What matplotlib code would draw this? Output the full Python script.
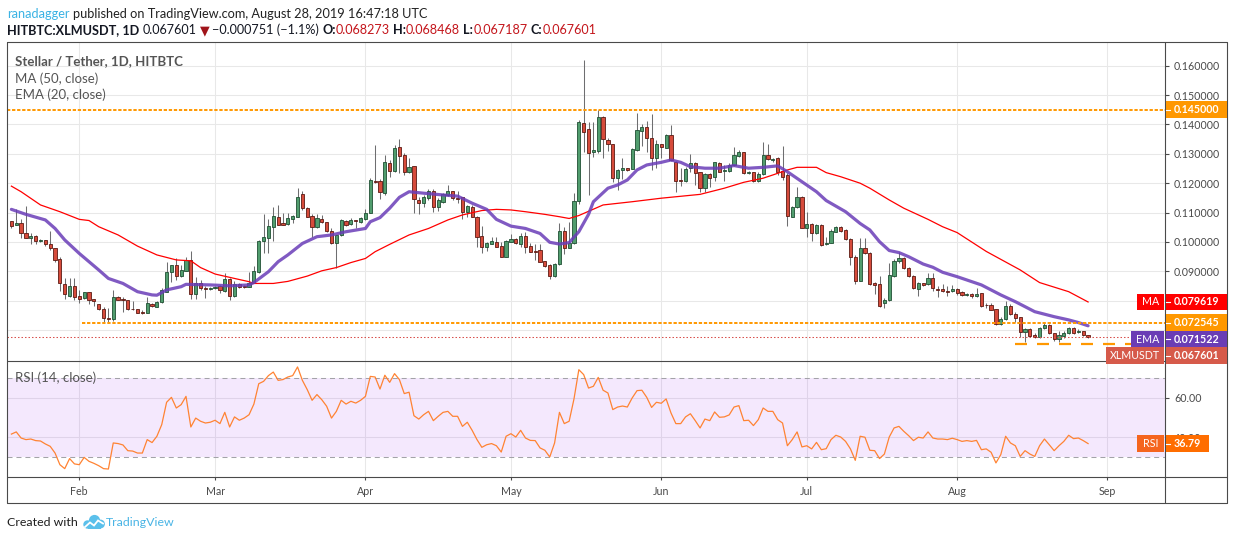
import numpy as np
import pandas as pd
import matplotlib
matplotlib.use('Agg')
import matplotlib.pyplot as plt
import matplotlib.dates as mdates
from matplotlib.patches import Rectangle, Circle

plt.rcParams['font.family'] = ['Lato', 'DejaVu Sans']

# ---------------- data ----------------
start_date = '2019-01-18'
opens = [0.1071,0.1057,0.1065,0.1031,0.1015,0.1019,0.1004,0.1006,0.0993,0.0978,
         0.0941,0.0857,0.0817,0.0850,0.0816,0.0808,0.0829,0.0807,0.0788,0.0772,
         0.0743,0.0739,0.0813,0.0807,0.0803,0.0772,0.0772,0.0762,0.0760,0.0789,
         0.0780,0.0795,0.0830,0.0897,0.0921,0.0884,0.0902,0.0939,0.0822,0.0859,
         0.0842,0.0839,0.0842,0.0850,0.0834,0.0873,0.0817,0.0857,0.0851,0.0848,
         0.0862,0.0898,0.1004,0.1015,0.1052,0.1084,0.1063,0.1060,0.1079,0.1086,
         0.1163,0.1115,0.1088,0.1052,0.1078,0.1067,0.1039,0.0998,0.1024,0.1071,
         0.1060,0.1075,0.1069,0.1078,0.1100,0.1208,0.1208,0.1166,0.1268,0.1243,
         0.1322,0.1296,0.1239,0.1259,0.1143,0.1132,0.1149,0.1173,0.1120,0.1137,
         0.1160,0.1173,0.1150,0.1152,0.1103,0.1118,0.1086,0.1020,0.0984,0.0994,
         0.1000,0.0986,0.0950,0.1001,0.1010,0.0993,0.1019,0.0986,0.0969,0.0973,
         0.0934,0.0922,0.0885,0.0924,0.1037,0.0981,0.0995,0.1139,0.1404,0.1384,
         0.1307,0.1311,0.1424,0.1347,0.1332,0.1217,0.1244,0.1252,0.1248,0.1314,
         0.1376,0.1391,0.1353,0.1285,0.1332,0.1321,0.1364,0.1273,0.1211,0.1209,
         0.1251,0.1268,0.1237,0.1182,0.1231,0.1220,0.1268,0.1241,0.1243,0.1262,
         0.1294,0.1305,0.1234,0.1237,0.1209,0.1231,0.1296,0.1278,0.1287,0.1240,
         0.1228,0.1086,0.1118,0.1154,0.1049,0.1060,0.1030,0.1057,0.0992,0.0998,
         0.1035,0.1052,0.1041,0.1009,0.0950,0.0868,0.0978,0.0964,0.0859,0.0856,
         0.0791,0.0803,0.0884,0.0934,0.0944,0.0910,0.0885,0.0839,0.0859,0.0856,
         0.0876,0.0840,0.0839,0.0833,0.0832,0.0840,0.0830,0.0819,0.0823,0.0816,
         0.0825,0.0787,0.0787,0.0771,0.0720,0.0737,0.0782,0.0755,0.0744,0.0693,
         0.0703,0.0684,0.0678,0.0706,0.0718,0.0689,0.0670,0.0680,0.0689,0.0709,
         0.0695,0.0697,0.068273]
highs = [0.1073,0.1111,0.1077,0.1122,0.1030,0.1024,0.1010,0.1006,0.1037,0.0978,
         0.0948,0.0876,0.0877,0.0877,0.0836,0.0831,0.0829,0.0807,0.0788,0.0778,
         0.0774,0.0837,0.0816,0.0812,0.0803,0.0800,0.0772,0.0769,0.0813,0.0791,
         0.0798,0.0845,0.0932,0.0923,0.0944,0.0921,0.0950,0.0969,0.0882,0.0871,
         0.0851,0.0848,0.0851,0.0854,0.0896,0.0876,0.0868,0.0859,0.0853,0.0898,
         0.0919,0.1007,0.1095,0.1077,0.1120,0.1126,0.1098,0.1098,0.1092,0.1183,
         0.1175,0.1118,0.1094,0.1095,0.1092,0.1069,0.1048,0.1024,0.1079,0.1075,
         0.1080,0.1075,0.1086,0.1111,0.1219,0.1330,0.1213,0.1296,0.1279,0.1330,
         0.1350,0.1302,0.1285,0.1259,0.1152,0.1160,0.1179,0.1179,0.1149,0.1168,
         0.1193,0.1173,0.1173,0.1154,0.1126,0.1126,0.1088,0.1054,0.1001,0.1016,
         0.1016,0.1001,0.1007,0.1027,0.1012,0.1029,0.1035,0.0998,0.0993,0.0993,
         0.0936,0.0925,0.0930,0.1066,0.1052,0.1069,0.1166,0.1415,0.1619,0.1409,
         0.1409,0.1449,0.1429,0.1353,0.1335,0.1248,0.1287,0.1253,0.1321,0.1438,
         0.1400,0.1413,0.1434,0.1347,0.1335,0.1366,0.1398,0.1276,0.1251,0.1256,
         0.1299,0.1273,0.1239,0.1234,0.1234,0.1273,0.1271,0.1262,0.1268,0.1324,
         0.1313,0.1307,0.1240,0.1239,0.1239,0.1341,0.1333,0.1285,0.1290,0.1327,
         0.1234,0.1122,0.1186,0.1156,0.1103,0.1063,0.1060,0.1060,0.1018,0.1043,
         0.1056,0.1054,0.1044,0.1012,0.0955,0.1012,0.1012,0.0967,0.0865,0.0884,
         0.0808,0.0927,0.0941,0.0967,0.0948,0.0914,0.0888,0.0865,0.0862,0.0896,
         0.0896,0.0850,0.0857,0.0851,0.0854,0.0842,0.0832,0.0825,0.0825,0.0842,
         0.0828,0.0794,0.0791,0.0773,0.0744,0.0799,0.0788,0.0763,0.0746,0.0706,
         0.0706,0.0689,0.0712,0.0723,0.0721,0.0692,0.0697,0.0698,0.0712,0.0712,
         0.0703,0.0698,0.068468]
lows = [0.1047,0.1057,0.1015,0.1012,0.0992,0.0992,0.1001,0.0986,0.0973,0.0933,
        0.0834,0.0805,0.0814,0.0803,0.0791,0.0805,0.0788,0.0782,0.0769,0.0729,
        0.0729,0.0732,0.0802,0.0762,0.0769,0.0769,0.0757,0.0755,0.0760,0.0780,
        0.0778,0.0794,0.0830,0.0865,0.0871,0.0882,0.0900,0.0807,0.0807,0.0837,
        0.0811,0.0837,0.0840,0.0825,0.0831,0.0802,0.0814,0.0842,0.0845,0.0846,
        0.0859,0.0896,0.0964,0.0964,0.1004,0.1057,0.1057,0.1058,0.1063,0.1084,
        0.1109,0.1084,0.1016,0.1046,0.1063,0.1035,0.0993,0.0913,0.1020,0.1054,
        0.1058,0.1046,0.1066,0.1075,0.1098,0.1200,0.1145,0.1160,0.1222,0.1239,
        0.1234,0.1228,0.1234,0.1098,0.1095,0.1120,0.1143,0.1103,0.1107,0.1134,
        0.1156,0.1143,0.1134,0.1077,0.1086,0.1084,0.0984,0.0964,0.0970,0.0992,
        0.0982,0.0948,0.0948,0.0999,0.0993,0.0984,0.0964,0.0965,0.0939,0.0931,
        0.0916,0.0873,0.0882,0.0922,0.0959,0.0978,0.0993,0.1130,0.1307,0.1160,
        0.1290,0.1302,0.1285,0.1310,0.1205,0.1177,0.1213,0.1243,0.1247,0.1311,
        0.1327,0.1307,0.1245,0.1251,0.1287,0.1319,0.1276,0.1171,0.1192,0.1205,
        0.1239,0.1194,0.1169,0.1169,0.1188,0.1207,0.1237,0.1207,0.1239,0.1260,
        0.1290,0.1230,0.1230,0.1205,0.1205,0.1228,0.1279,0.1273,0.1228,0.1211,
        0.1054,0.1084,0.1115,0.1046,0.1018,0.1005,0.1027,0.0988,0.0990,0.0995,
        0.1033,0.1035,0.1007,0.0922,0.0857,0.0866,0.0959,0.0855,0.0823,0.0780,
        0.0774,0.0800,0.0882,0.0930,0.0908,0.0882,0.0840,0.0817,0.0850,0.0854,
        0.0834,0.0812,0.0831,0.0817,0.0829,0.0820,0.0816,0.0817,0.0808,0.0814,
        0.0778,0.0774,0.0768,0.0718,0.0718,0.0735,0.0752,0.0729,0.0678,0.0661,
        0.0678,0.0672,0.0672,0.0703,0.0687,0.0664,0.0661,0.0675,0.0687,0.0687,
        0.0692,0.0681,0.067187]
closes = [0.1055,0.1065,0.1030,0.1015,0.1019,0.1005,0.1006,0.0992,0.0981,0.0939,
          0.0859,0.0822,0.0850,0.0812,0.0807,0.0829,0.0802,0.0798,0.0772,0.0740,
          0.0739,0.0813,0.0804,0.0803,0.0771,0.0771,0.0760,0.0760,0.0792,0.0781,
          0.0795,0.0837,0.0898,0.0921,0.0885,0.0905,0.0939,0.0822,0.0859,0.0842,
          0.0839,0.0843,0.0848,0.0836,0.0874,0.0817,0.0857,0.0846,0.0848,0.0862,
          0.0901,0.1003,0.1018,0.1054,0.1088,0.1059,0.1059,0.1080,0.1088,0.1153,
          0.1115,0.1086,0.1052,0.1080,0.1067,0.1039,0.0995,0.1024,0.1075,0.1058,
          0.1075,0.1070,0.1080,0.1100,0.1211,0.1203,0.1171,0.1272,0.1243,0.1319,
          0.1294,0.1239,0.1254,0.1145,0.1132,0.1152,0.1173,0.1120,0.1143,0.1162,
          0.1173,0.1149,0.1145,0.1103,0.1122,0.1086,0.1018,0.0984,0.0995,0.1002,
          0.0984,0.0950,0.1003,0.1010,0.0995,0.1019,0.0984,0.0967,0.0967,0.0933,
          0.0920,0.0885,0.0925,0.1037,0.0978,0.0995,0.1139,0.1407,0.1375,0.1304,
          0.1313,0.1424,0.1349,0.1332,0.1217,0.1245,0.1252,0.1246,0.1315,0.1381,
          0.1391,0.1355,0.1287,0.1332,0.1322,0.1364,0.1279,0.1209,0.1209,0.1248,
          0.1268,0.1234,0.1182,0.1231,0.1219,0.1271,0.1239,0.1245,0.1262,0.1296,
          0.1305,0.1234,0.1237,0.1207,0.1231,0.1296,0.1281,0.1281,0.1239,0.1222,
          0.1088,0.1118,0.1154,0.1049,0.1060,0.1030,0.1057,0.0990,0.0995,0.1037,
          0.1052,0.1039,0.1009,0.0948,0.0868,0.0978,0.0961,0.0857,0.0855,0.0783,
          0.0803,0.0887,0.0935,0.0944,0.0910,0.0885,0.0842,0.0859,0.0855,0.0876,
          0.0842,0.0837,0.0834,0.0831,0.0840,0.0828,0.0819,0.0823,0.0818,0.0823,
          0.0783,0.0785,0.0770,0.0720,0.0737,0.0782,0.0754,0.0743,0.0693,0.0703,
          0.0681,0.0678,0.0706,0.0718,0.0689,0.0669,0.0683,0.0692,0.0709,0.0692,
          0.0697,0.0684,0.067601]

ma_day = [0,2,6,10,14,16,18,22,26,30,34,37,39,42,46,49,50,54,57,61,64,67,70,73,75,
          78,82,86,90,93,97,100,103,106,110,113,115,117,122,128,134,142,147,151,155,
          157,160,162,166,168,171,175,177,181,184,189,192,195,201,208,212,218,222]
ma_val = [0.1190,0.1171,0.1126,0.1103,0.1077,0.1073,0.1052,0.1024,0.0986,0.0956,
          0.0939,0.0936,0.0913,0.0891,0.0876,0.0865,0.0859,0.0859,0.0866,0.0884,
          0.0902,0.0913,0.0930,0.0944,0.0967,0.0992,0.1024,0.1046,0.1075,0.1092,
          0.1107,0.1111,0.1109,0.1103,0.1094,0.1086,0.1080,0.1090,0.1126,0.1137,
          0.1149,0.1162,0.1183,0.1203,0.1217,0.1228,0.1245,0.1254,0.1254,0.1236,
          0.1222,0.1200,0.1183,0.1143,0.1115,0.1077,0.1052,0.1032,0.0968,0.0905,
          0.0862,0.0831,0.0796]
ema_day = [0,3,7,9,11,14,16,18,20,23,26,29,30,32,35,36,41,45,49,50,53,55,57,60,63,
           66,69,73,74,76,78,80,82,85,89,92,95,98,100,103,106,109,111,113,115,117,
           119,120,123,125,127,129,131,134,136,138,140,143,146,149,152,155,158,160,
           163,166,168,170,172,175,177,179,181,183,185,188,190,192,195,200,204,207,
           211,215,218,220,222]
ema_val = [0.1111,0.1094,0.1075,0.1046,0.1007,0.0961,0.0933,0.0905,0.0876,0.0859,
           0.0831,0.0820,0.0819,0.0837,0.0848,0.0856,0.0854,0.0851,0.0854,0.0862,
           0.0899,0.0933,0.0956,0.0995,0.1018,0.1024,0.1035,0.1046,0.1069,0.1083,
           0.1115,0.1152,0.1171,0.1166,0.1160,0.1156,0.1132,0.1111,0.1077,0.1054,
           0.1046,0.1029,0.0999,0.0993,0.0998,0.1035,0.1094,0.1137,0.1183,0.1194,
           0.1211,0.1245,0.1262,0.1271,0.1279,0.1271,0.1256,0.1251,0.1251,0.1260,
           0.1251,0.1254,0.1259,0.1239,0.1205,0.1171,0.1141,0.1122,0.1103,0.1063,
           0.1041,0.1001,0.0971,0.0964,0.0950,0.0925,0.0914,0.0897,0.0882,0.0854,
           0.0820,0.0797,0.0763,0.0746,0.0735,0.0726,0.0715]
rsi = [41.6,42.7,39.6,38.8,39.1,38.3,38.1,36.6,35.4,32.0,26.1,24.1,29.2,26.5,26.1,
       29.8,27.8,26.8,25.6,24.1,23.9,37.1,36.8,36.1,33.2,33.0,32.0,32.0,38.8,37.3,
       40.5,46.4,57.7,60.2,54.8,56.5,60.7,45.2,49.7,48.1,47.2,47.6,48.6,46.9,52.6,
       45.2,50.3,48.6,49.7,51.4,56.8,67.1,68.3,71.2,73.0,68.8,69.2,70.5,71.2,75.6,
       68.8,64.1,58.7,61.6,59.0,55.7,49.7,53.1,58.7,56.8,58.2,57.3,58.7,60.7,70.8,
       70.5,64.4,71.4,67.8,72.2,69.2,62.1,62.8,50.9,49.2,51.4,53.1,48.4,50.6,52.6,
       53.1,50.6,50.6,45.5,47.6,43.5,38.8,34.9,36.2,36.8,35.7,32.5,40.5,41.8,40.1,
       43.5,39.6,38.4,38.3,34.6,33.4,30.0,37.1,52.6,46.9,48.1,59.4,74.2,71.7,64.9,
       65.8,70.3,63.8,62.4,54.0,55.3,55.8,55.3,59.9,63.6,63.8,60.2,55.1,57.7,57.2,
       59.4,52.3,46.9,46.9,50.3,51.9,48.4,44.7,49.2,48.4,52.8,50.1,50.3,51.3,55.3,
       56.0,48.4,48.6,45.9,48.9,54.8,53.1,53.1,48.9,47.2,35.7,38.8,42.7,35.1,35.7,
       34.1,37.4,33.7,34.2,38.8,41.0,40.1,37.9,34.1,28.3,40.5,40.0,33.4,33.2,29.2,
       31.5,40.1,44.7,45.5,43.0,40.8,38.3,40.0,39.6,42.7,39.6,39.1,39.1,38.8,39.5,
       38.8,37.9,38.3,37.9,38.4,33.7,34.1,32.4,27.0,31.2,40.5,37.1,35.7,30.3,33.2,
       31.5,30.3,35.7,39.1,36.2,33.2,35.7,37.9,41.0,39.3,39.6,38.3,36.79]

price_grid = [0.07, 0.08, 0.09, 0.10, 0.11, 0.12, 0.13, 0.14, 0.15, 0.16]
price_labeled = [0.09, 0.10, 0.11, 0.12, 0.13, 0.14, 0.15, 0.16]
rsi_grid = [40, 60]
month_labels = ['Feb', 'Mar', 'Apr', 'May', 'Jun', 'Jul', 'Aug', 'Sep']
resistance = 0.145
support_level = 0.072545
lower_support = 0.0653
last_price = 0.067601
ma_last = 0.079619
ema_last = 0.071522
rsi_last = 36.79

# ---------------- styling ----------------
W, H = 1234, 540
UPF, UPE = '#519D6E', '#1F4F33'
DNF, DNE = '#D64B3B', '#5B1A13'
WICK = '#6E6E70'
GRID = '#E8E8E8'
FRAME = '#4A4A4A'
ORANGE = '#FF9800'
TXT = '#4A4A4A'

fig = plt.figure(figsize=(W / 100, H / 100), dpi=100)
fig.patch.set_facecolor('white')
renderer = fig.canvas.get_renderer()


def fb(x0, y0, x1, y1):
    return [x0 / W, 1 - y1 / H, (x1 - x0) / W, (y1 - y0) / H]


ax = fig.add_axes(fb(7, 42, 1165, 361))
axr = fig.add_axes(fb(7, 361, 1165, 477))
ov = fig.add_axes([0, 0, 1, 1], zorder=10)
ov.set_xlim(0, W)
ov.set_ylim(H, 0)
ov.axis('off')
ov.patch.set_visible(False)

dates = pd.date_range(start_date, periods=len(closes), freq='D')
xd = mdates.date2num(dates.to_pydatetime())
x0 = xd[0]
xlim = (x0 - 0.907, x0 + 237.86)
months = pd.date_range('2019-02-01', '2019-09-01', freq='MS')
mx = mdates.date2num(months.to_pydatetime())

for a in (ax, axr):
    a.set_xlim(*xlim)
    for s in a.spines.values():
        s.set_visible(False)
    a.set_facecolor('white')
ax.set_ylim(0.05952, 0.16803)
axr.set_ylim(19.87, 78.6)

# grid
for v in price_grid:
    ax.axhline(v, color=GRID, lw=0.75, zorder=0)
for m in mx:
    ax.axvline(m, color=GRID, lw=0.75, zorder=0)
    axr.axvline(m, color=GRID, lw=0.75, zorder=0)
for v in rsi_grid:
    axr.axhline(v, color=GRID, lw=0.75, zorder=0)

# candles
O = np.array(opens); Hh = np.array(highs); L = np.array(lows); C = np.array(closes)
up = C >= O
ax.vlines(xd, L, Hh, color=WICK, lw=0.75, zorder=2)
ax.bar(xd, np.maximum(np.abs(C - O), 0.00007), bottom=np.minimum(O, C), width=0.66,
       color=[UPF if u else DNF for u in up], edgecolor=[UPE if u else DNE for u in up],
       linewidth=0.6, zorder=3)

# moving averages
ax.plot(xd[ma_day], ma_val, color='#FF0000', lw=0.9, zorder=4)
ax.plot(xd[ema_day], ema_val, color='#6A3DB8', lw=2.3, alpha=0.85, zorder=4,
        solid_capstyle='round', solid_joinstyle='round')

# horizontal levels
ax.axhline(resistance, color=ORANGE, lw=1.4, linestyle=(0, (1.7, 0.9)), zorder=5)
ax.hlines(support_level, x0 + 14.6, xlim[1], color=ORANGE, lw=1.4,
          linestyle=(0, (1.7, 0.9)), zorder=5)
ax.hlines(lower_support, x0 + 206.9, x0 + 236.8, color=ORANGE, lw=1.6,
          linestyle=(0, (5.4, 4.5)), zorder=5)
ax.axhline(last_price, color='#D9534F', lw=0.75, linestyle=(0, (1.44, 1.92)), zorder=5)

# RSI
axr.axhspan(30, 70, color=(0.58, 0.13, 0.95, 0.10), lw=0, zorder=1)
for v in (30, 70):
    axr.axhline(v, color='#A3A3A8', lw=0.75, linestyle=(0, (4.8, 3.8)), zorder=2)
axr.plot(xd, rsi, color='#FF8333', lw=0.9, zorder=3)


def text_w(s, size, weight='normal'):
    t = ov.text(0, 0, s, fontsize=size, fontweight=weight)
    w = t.get_window_extent(renderer).width
    t.remove()
    return w


def fit(s, target, weight='normal', base=9.0):
    return base * target / text_w(s, base, weight)


tick_size = fit('0.160000', 46)

# axis ticks
ax.yaxis.tick_right()
ax.set_yticks(price_labeled)
ax.set_yticklabels([f'{v:.6f}' for v in price_labeled])
ax.tick_params(axis='y', direction='out', length=2.9, width=0.8, color=FRAME,
               labelsize=tick_size, labelcolor=TXT, pad=3.6)
ax.tick_params(axis='x', length=0, labelbottom=False)
axr.yaxis.tick_right()
axr.set_yticks(rsi_grid)
axr.set_yticklabels([f'{v:.2f}' for v in rsi_grid])
axr.tick_params(axis='y', direction='out', length=2.9, width=0.8, color=FRAME,
                labelsize=tick_size, labelcolor=TXT, pad=3.6)
axr.set_xticks(mx)
axr.set_xticklabels(month_labels)
axr.tick_params(axis='x', direction='out', length=2.2, width=0.8, color=FRAME,
                labelsize=tick_size, labelcolor=TXT, pad=4.6)

# frame
fk = dict(color=FRAME, lw=0.8, solid_capstyle='butt')
ov.plot([7, 1227, 1227, 7, 7], [42, 42, 503, 503, 42], **fk)
ov.plot([1165, 1165], [42, 503], **fk)
ov.plot([7, 1227], [361, 361], **fk)
ov.plot([7, 1227], [477, 477], **fk)


def py_of(axis, v):
    return H - axis.transData.transform((xlim[0], v))[1]


def label_box(yc, color, value_text, x1=1227, left=None, left_x0=None,
              left_color=None, h=16.5):
    ov.add_patch(Rectangle((1166, yc - h / 2), x1 - 1166, h, facecolor=color,
                           edgecolor='none', zorder=20))
    ov.plot([1166, 1169.5], [yc, yc], color='white', lw=0.8, zorder=21)
    ov.text(1174, yc, value_text, fontsize=tick_size, fontweight='bold',
            color='white', ha='left', va='center', zorder=22)
    if left is not None:
        ov.add_patch(Rectangle((left_x0, yc - h / 2), 1164 - left_x0, h,
                               facecolor=left_color or color, edgecolor='none', zorder=20))
        ov.text((left_x0 + 1164) / 2, yc, left, fontsize=tick_size, color='white',
                ha='center', va='center', zorder=22)


# main price labels with collision avoidance
boxes = [
    (py_of(ax, ma_last), '#FF0000', f'{ma_last:.6f}', 'MA', 1137),
    (py_of(ax, support_level), ORANGE, f'{support_level:.6f}', None, None),
    (py_of(ax, ema_last), '#6A3DB5', f'{ema_last:.6f}', 'EMA', 1131),
    (py_of(ax, last_price), '#D65A4A', f'{last_price:.6f}', 'XLMUSDT', 1106),
]
boxes.sort(key=lambda b: b[0])
prev = -1e9
for yc, col, vt, lt, lx in boxes:
    yc = max(yc, prev + 16.5)
    label_box(yc, col, vt, left=lt, left_x0=lx)
    prev = yc
label_box(py_of(ax, resistance), ORANGE, f'{resistance:.6f}')
label_box(py_of(axr, rsi_last), '#FF6D00', f'{rsi_last:.2f}', x1=1209,
          left='RSI', left_x0=1137, left_color='#F5651E')

# legends
ls = fit('MA (50, close)', 83)
ov.text(15, 61, 'Stellar / Tether, 1D, HITBTC', fontsize=ls, fontweight='bold',
        color='#555555', va='center', ha='left')
ov.text(15, 79, 'MA (50, close)', fontsize=ls, color='#555555', va='center', ha='left')
ov.text(15, 95, 'EMA (20, close)', fontsize=ls, color='#555555', va='center', ha='left')
ov.text(15, 378, 'RSI (14, close)', fontsize=ls, color='#555555', va='center', ha='left')


# header
def seq(x, yb, parts, size):
    sp = text_w('a a', size) - text_w('aa', size)
    for s, col, wt, g in parts:
        t = ov.text(x, yb, s, fontsize=size, color=col, fontweight=wt,
                    va='baseline', ha='left')
        x += t.get_window_extent(renderer).width + g * sp


def seq_width(parts, size):
    sp = text_w('a a', size) - text_w('aa', size)
    return sum(text_w(s, size, wt) + g * sp for s, col, wt, g in parts)


DARK = '#131722'
RED = '#C4161C'
line1 = [('ranadagger', '#3BB3E4', 'normal', 1),
         ('published on TradingView.com, August 28, 2019 16:47:18 UTC', '#222222', 'normal', 0)]
s1 = 9.0 * 420 / seq_width(line1, 9.0)
seq(7, 17.5, line1, s1)
line2 = [('HITBTC:XLMUSDT, 1D', DARK, 'bold', 1),
         ('0.067601', DARK, 'normal', 1), ('\u25BC', '#A0141A', 'normal', 0.8),
         ('\u22120.000751 (\u22121.1%)', DARK, 'normal', 1),
         ('O:', DARK, 'bold', 0), ('0.068273', RED, 'normal', 1),
         ('H:', DARK, 'bold', 0), ('0.068468', RED, 'normal', 1),
         ('L:', DARK, 'bold', 0), ('0.067187', RED, 'normal', 1),
         ('C:', DARK, 'bold', 0), ('0.067601', RED, 'normal', 0)]
s2 = 9.0 * 587 / seq_width(line2, 9.0)
seq(7, 34.5, line2, s2)

# footer
fs = fit('Created with', 71)
ov.text(7, 523, 'Created with', fontsize=fs, color='#1E1E1E', va='center', ha='left')
ov.text(106, 523, 'TradingView', fontsize=fs, color='#49B4E5', va='center', ha='left')
LOGO = '#5BC0EB'
for cx, cy, r in [(87.5, 524.5, 4.2), (94.5, 520.5, 5.6), (100.5, 524.0, 4.4)]:
    ov.add_patch(Circle((cx, cy), r, facecolor=LOGO, edgecolor='none', zorder=20))
ov.add_patch(Rectangle((87.5, 522), 13, 6.8, facecolor=LOGO, edgecolor='none', zorder=20))
ov.plot([85, 90, 94, 98, 103], [527, 522.5, 525.5, 520.5, 523.5], color='white',
        lw=1.3, zorder=21, solid_joinstyle='miter')

fig.savefig('out.png', dpi=100, facecolor='white')
